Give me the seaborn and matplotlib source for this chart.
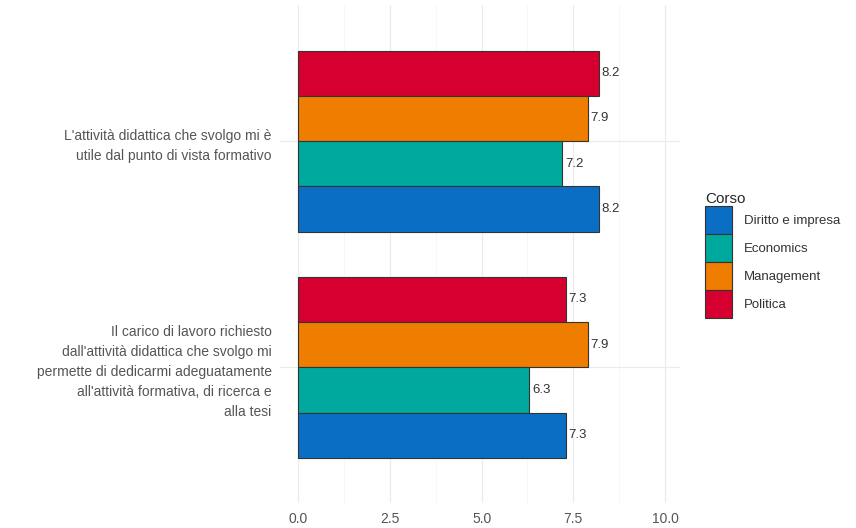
import matplotlib
matplotlib.use("Agg")
import matplotlib.pyplot as plt
from matplotlib.patches import Patch
import numpy as np
import pandas as pd
import seaborn as sns

domande = [
    "L'attività didattica che svolgo mi è\nutile dal punto di vista formativo",
    "Il carico di lavoro richiesto\ndall'attività didattica che svolgo mi\npermette di dedicarmi adeguatamente\nall'attività formativa, di ricerca e\nalla tesi",
]
corsi = ["Diritto e impresa", "Economics", "Management", "Politica"]
colori = ["#0a6fc4", "#00a99d", "#ef7d00", "#d5002f"]
diritto = [8.2, 7.3]
economics = [7.2, 6.3]
management = [7.9, 7.9]
politica = [8.2, 7.3]

df = pd.DataFrame({
    "domanda": domande * 4,
    "corso": np.repeat(corsi, 2),
    "voto": diritto + economics + management + politica,
})

sns.set_theme(style="white")
plt.rcParams["font.family"] = ["Liberation Sans", "DejaVu Sans"]

fig = plt.figure(figsize=(8.56, 5.28), dpi=100)
ax = fig.add_axes([0.327, 0.047, 0.467, 0.943])

ordine = corsi[::-1]  # Politica on top within each group
pal = dict(zip(corsi, colori))
sns.barplot(data=df, y="domanda", x="voto", hue="corso", hue_order=ordine,
            palette=pal, orient="h", width=0.8, gap=0, saturation=1,
            edgecolor="#333333", linewidth=0.8, legend=False, ax=ax)

for cont in ax.containers:
    ax.bar_label(cont, fmt="%.1f", padding=2, fontsize=9.5, color="#333333")

ax.set_xlim(-0.5, 10.4)
ax.set_ylim(1.6, -0.6)
ax.set_xticks([0, 2.5, 5, 7.5, 10])
ax.set_xticklabels(["0.0", "2.5", "5.0", "7.5", "10.0"])
ax.set_xticks([1.25, 3.75, 6.25, 8.75], minor=True)
ax.grid(True, which="major", color="#ebebeb", linewidth=0.9)
ax.grid(True, which="minor", axis="x", color="#f4f4f4", linewidth=0.5)
ax.set_axisbelow(True)
for s in ax.spines.values():
    s.set_visible(False)
ax.tick_params(axis="both", length=0, labelsize=10, labelcolor="#555555", pad=6)
for lab in ax.get_yticklabels():
    lab.set_horizontalalignment("right")
    lab.set_multialignment("right")
    lab.set_linespacing(1.55)
ax.set_xlabel("")
ax.set_ylabel("")

handles = [Patch(facecolor=c, edgecolor="#333333", linewidth=0.8) for c in colori]
leg = fig.legend(handles, corsi, title="Corso", loc="upper left",
                 bbox_to_anchor=(0.824, 0.637), frameon=False, fontsize=9.5,
                 title_fontsize=11, handlelength=2.0, handleheight=2.9,
                 labelspacing=0.0, handletextpad=0.9, borderpad=0,
                 borderaxespad=0, alignment="left")
for t in leg.get_texts():
    t.set_color("#333333")

fig.savefig("out.png", dpi=100)
